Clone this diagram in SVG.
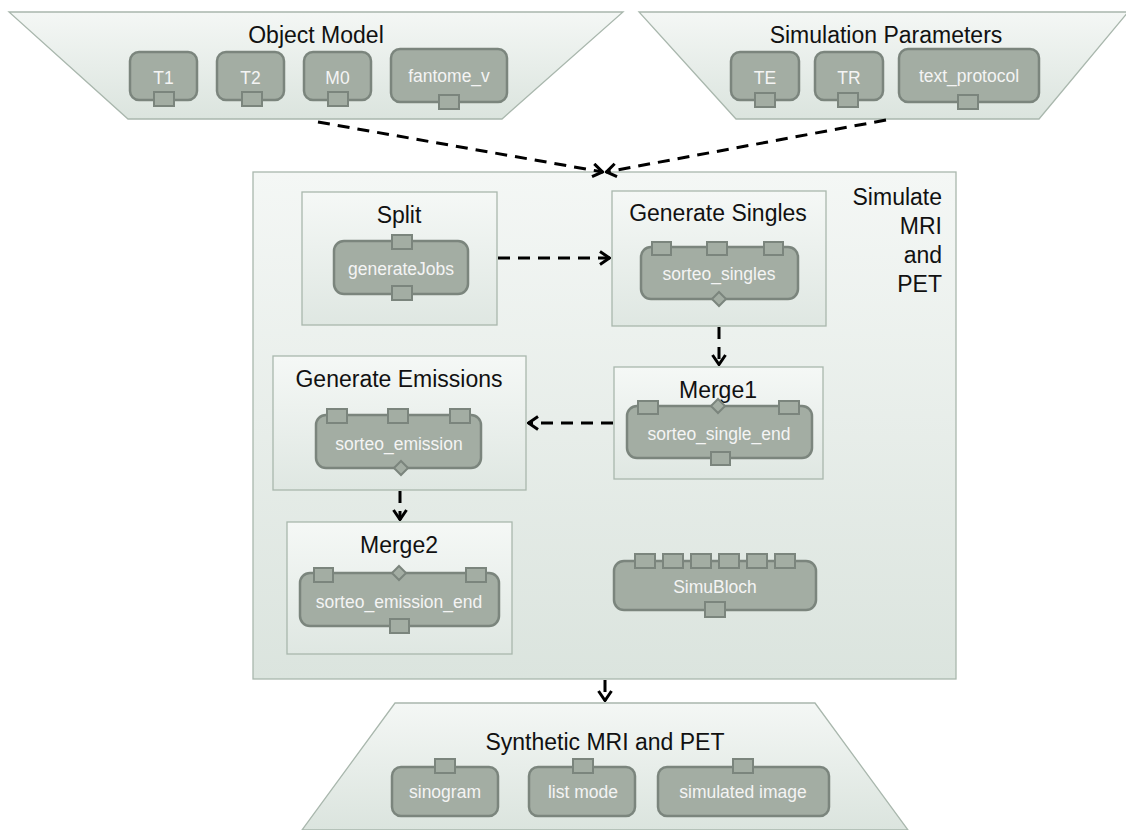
<svg xmlns="http://www.w3.org/2000/svg" width="1126" height="830" viewBox="0 0 1126 830">
<defs>
<linearGradient id="panel" x1="0" y1="0" x2="0" y2="1">
<stop offset="0" stop-color="#f4f7f5"/>
<stop offset="1" stop-color="#dbe4de"/>
</linearGradient>
<linearGradient id="sub" x1="0" y1="0" x2="0" y2="1">
<stop offset="0" stop-color="#f5f8f6"/>
<stop offset="1" stop-color="#dfe7e2"/>
</linearGradient>
<marker id="arr" viewBox="0 0 12 16" refX="11" refY="8" markerWidth="12" markerHeight="16" markerUnits="userSpaceOnUse" orient="auto">
<path d="M1,1.5 L10.5,8 L1,14.5" fill="none" stroke="#000" stroke-width="3" stroke-dasharray="none"/>
</marker>
</defs>
<style>
.panel{fill:url(#panel);stroke:#a9b7ad;stroke-width:1.3}
.sub{fill:url(#sub);stroke:#a9b7ad;stroke-width:1.3}
.node{fill:#a3ada3;stroke:#7b857d;stroke-width:2.5}
.port{fill:#a3ada3;stroke:#7b857d;stroke-width:2}
.title{font-family:"Liberation Sans",Arial,sans-serif;font-size:23px;fill:#111;text-anchor:middle}
.label{font-family:"Liberation Sans",Arial,sans-serif;font-size:17.5px;fill:#f4f4f4;text-anchor:middle}
.conn{fill:none;stroke:#000;stroke-width:3;stroke-dasharray:12 8;marker-end:url(#arr)}
</style>

<g id="object-model">
<polygon class="panel" points="9,12 623,12 502,119 128,119"/>
<text class="title" x="316" y="43">Object Model</text>
<rect class="node" x="130" y="52" width="67" height="48" rx="9"/>
<text class="label" x="163.5" y="84">T1</text>
<rect class="port" x="154" y="92" width="20" height="14"/>
<rect class="node" x="217" y="52" width="67" height="48" rx="9"/>
<text class="label" x="250.5" y="84">T2</text>
<rect class="port" x="242" y="92" width="20" height="14"/>
<rect class="node" x="304" y="52" width="67" height="48" rx="9"/>
<text class="label" x="337.5" y="84">M0</text>
<rect class="port" x="328" y="92" width="20" height="14"/>
<rect class="node" x="391" y="49" width="116" height="53" rx="9"/>
<text class="label" x="449" y="82">fantome_v</text>
<rect class="port" x="439" y="95" width="20" height="14"/>
</g>

<g id="simulation-parameters">
<polygon class="panel" points="639,12 1128,12 1039,119 736,119"/>
<text class="title" x="886" y="43">Simulation Parameters</text>
<rect class="node" x="731" y="52" width="68" height="48" rx="9"/>
<text class="label" x="765" y="84">TE</text>
<rect class="port" x="755" y="93" width="20" height="14"/>
<rect class="node" x="815" y="52" width="68" height="48" rx="9"/>
<text class="label" x="849" y="84">TR</text>
<rect class="port" x="838" y="93" width="20" height="14"/>
<rect class="node" x="899" y="49" width="140" height="53" rx="9"/>
<text class="label" x="969" y="82">text_protocol</text>
<rect class="port" x="958" y="95" width="20" height="14"/>
</g>

<g id="simulate">
<rect class="panel" x="253" y="172" width="703" height="507"/>
<text class="title" style="text-anchor:end" x="942" y="205">Simulate</text>
<text class="title" style="text-anchor:end" x="942" y="234">MRI</text>
<text class="title" style="text-anchor:end" x="942" y="263">and</text>
<text class="title" style="text-anchor:end" x="942" y="292">PET</text>
</g>

<g id="split">
<rect class="sub" x="302" y="192" width="195" height="133"/>
<text class="title" x="399" y="223">Split</text>
<rect class="node" x="334" y="241" width="134" height="53" rx="10"/>
<rect class="port" x="392" y="235" width="20" height="14"/>
<text class="label" x="401" y="275">generateJobs</text>
<rect class="port" x="392" y="286" width="20" height="14"/>
</g>

<g id="generate-singles">
<rect class="sub" x="612" y="191" width="214" height="135"/>
<text class="title" x="718" y="221">Generate Singles</text>
<rect class="node" x="641" y="247" width="157" height="52" rx="10"/>
<rect class="port" x="652" y="242" width="19" height="13"/>
<rect class="port" x="707" y="242" width="20" height="13"/>
<rect class="port" x="764" y="242" width="19" height="13"/>
<text class="label" x="719" y="280">sorteo_singles</text>
<polygon class="port" points="719,292 726,299 719,306 712,299"/>
</g>

<g id="merge1">
<rect class="sub" x="614" y="367" width="209" height="112"/>
<text class="title" x="718" y="398">Merge1</text>
<rect class="node" x="627" y="406" width="185" height="52" rx="10"/>
<rect class="port" x="638" y="401" width="20" height="13"/>
<rect class="port" x="779" y="401" width="20" height="13"/>
<polygon class="port" points="718,399 725,406 718,413 711,406"/>
<text class="label" x="719" y="440">sorteo_single_end</text>
<rect class="port" x="711" y="452" width="19" height="13"/>
</g>

<g id="generate-emissions">
<rect class="sub" x="273" y="356" width="253" height="134"/>
<text class="title" x="399" y="387">Generate Emissions</text>
<rect class="node" x="316" y="415" width="165" height="53" rx="10"/>
<rect class="port" x="327" y="409" width="20" height="14"/>
<rect class="port" x="388" y="409" width="20" height="14"/>
<rect class="port" x="450" y="409" width="20" height="14"/>
<text class="label" x="399" y="450">sorteo_emission</text>
<polygon class="port" points="401,461 408,468 401,475 394,468"/>
</g>

<g id="merge2">
<rect class="sub" x="287" y="522" width="225" height="132"/>
<text class="title" x="399" y="553">Merge2</text>
<rect class="node" x="300" y="573" width="199" height="53" rx="10"/>
<rect class="port" x="314" y="568" width="19" height="14"/>
<rect class="port" x="466" y="568" width="20" height="14"/>
<polygon class="port" points="399,566 406,573 399,580 392,573"/>
<text class="label" x="399" y="608">sorteo_emission_end</text>
<rect class="port" x="390" y="619" width="19" height="14"/>
</g>

<g id="simubloch">
<rect class="node" x="614" y="561" width="202" height="49" rx="10"/>
<rect class="port" x="635" y="554" width="20" height="14"/>
<rect class="port" x="663" y="554" width="20" height="14"/>
<rect class="port" x="691" y="554" width="20" height="14"/>
<rect class="port" x="719" y="554" width="20" height="14"/>
<rect class="port" x="747" y="554" width="20" height="14"/>
<rect class="port" x="775" y="554" width="20" height="14"/>
<text class="label" x="715" y="593">SimuBloch</text>
<rect class="port" x="705" y="602" width="20" height="15"/>
</g>

<g id="synthetic">
<polygon class="panel" points="395,703 815,703 908,830 302,830"/>
<text class="title" x="605" y="750">Synthetic MRI and PET</text>
<rect class="node" x="392" y="767" width="106" height="49" rx="9"/>
<rect class="port" x="435" y="759" width="20" height="14"/>
<text class="label" x="445" y="798">sinogram</text>
<rect class="node" x="529" y="767" width="106" height="49" rx="9"/>
<rect class="port" x="573" y="759" width="20" height="14"/>
<text class="label" x="583" y="798">list mode</text>
<rect class="node" x="658" y="767" width="171" height="49" rx="9"/>
<rect class="port" x="733" y="759" width="20" height="14"/>
<text class="label" x="743" y="798">simulated image</text>
</g>

<g id="connectors">
<path class="conn" d="M318,122 L603,172"/>
<path class="conn" d="M886,120 L606,172"/>
<path class="conn" d="M498,258 L610,258"/>
<path class="conn" d="M719,327 L719,365"/>
<path class="conn" d="M613,423 L528,423"/>
<path class="conn" d="M400,491 L400,520"/>
<path class="conn" d="M605,680 L605,701"/>
</g>
</svg>
